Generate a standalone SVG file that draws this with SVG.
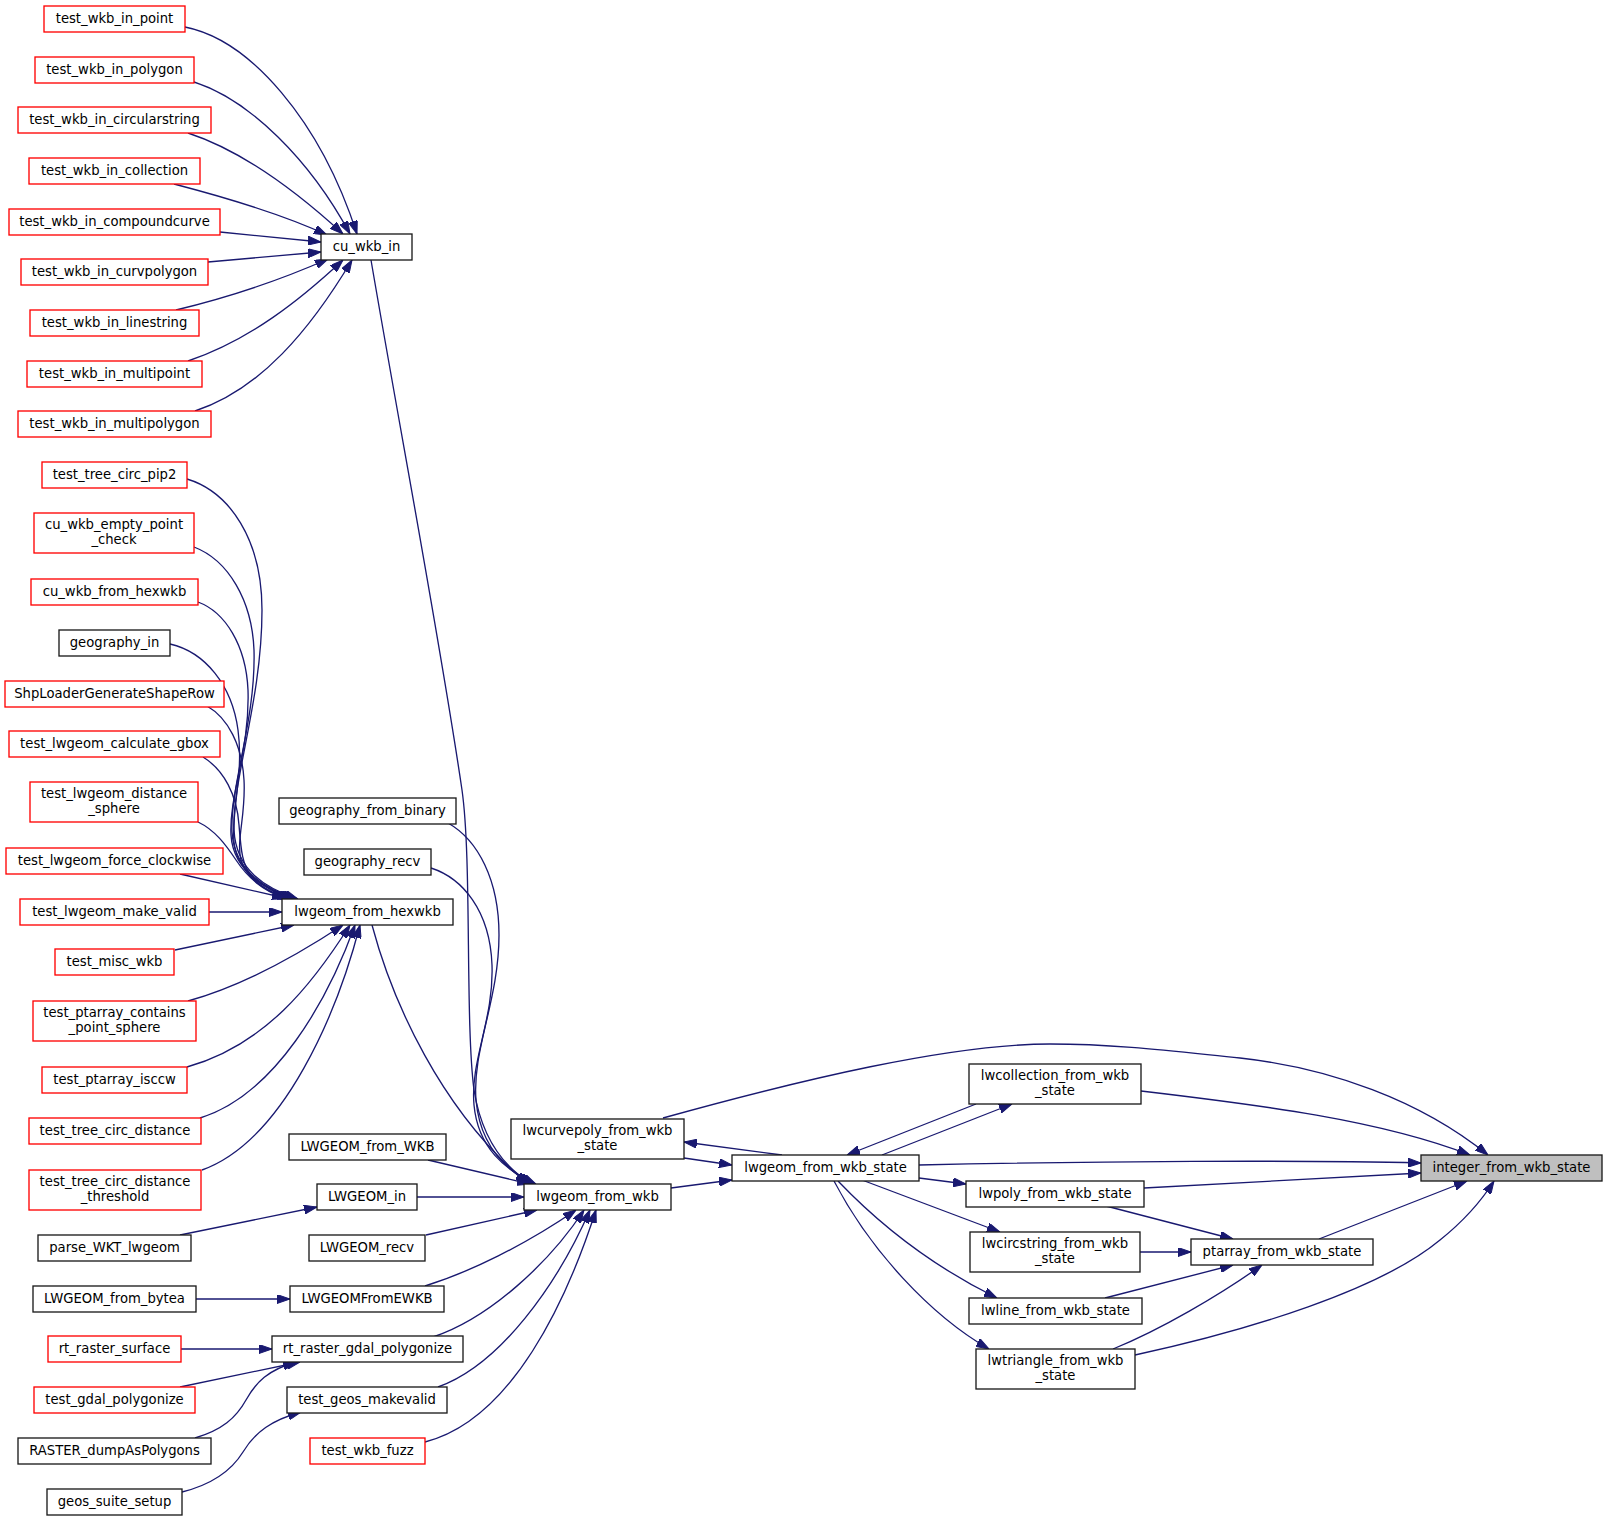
<svg xmlns="http://www.w3.org/2000/svg" width="1607" height="1520" viewBox="0 0 1607 1520">
<style>
.node rect{fill:#ffffff;stroke:#1a1a1a;stroke-width:1.33}
.node.red rect{stroke:#ff0000}
.node.cur rect{fill:#bfbfbf}
.node text{font-family:"DejaVu Sans","Liberation Sans",sans-serif;font-size:13.2px;text-anchor:middle;fill:#000000}
.edges path{fill:none;stroke:#191970;stroke-width:1.33;marker-end:url(#arr)}
</style>
<defs>
<marker id="arr" markerUnits="userSpaceOnUse" viewBox="0 0 13 9" refX="13" refY="4.5" markerWidth="13" markerHeight="9" orient="auto">
<path d="M0,0 L13,4.5 L0,9 z" fill="#191970" stroke="#191970" stroke-width="1"/>
</marker>
</defs>
<rect x="0" y="0" width="1607" height="1520" fill="#ffffff"/>
<g class="edges" id="edges">
<path d="M185,27 C250,40 320,120 357,234"/>
<path d="M194,82 C250,100 310,160 350,234"/>
<path d="M188,133 C240,150 295,190 343,234"/>
<path d="M174,184 C220,196 282,214 327,235"/>
<path d="M220,232 L321,242"/>
<path d="M208,262 L321,252"/>
<path d="M176,310 C230,297 285,278 328,259"/>
<path d="M188,361 C250,340 300,300 343,260"/>
<path d="M195,411 C260,390 310,330 352,260"/>
<path d="M187,479 C230,492 262,540 262,610 C262,700 232,780 234,830 C236,870 265,888 298,899"/>
<path d="M194,547 C228,560 252,600 254,650 C256,720 230,785 232,832 C234,868 262,888 296,899"/>
<path d="M198,602 C225,612 246,645 248,690 C250,750 229,795 231,835 C233,870 262,888 294,899"/>
<path d="M170,644 C205,652 232,685 238,730 C244,775 231,810 234,842 C237,872 263,889 292,899"/>
<path d="M207,706 C228,718 242,745 244,780 C246,815 236,840 241,860 C247,880 266,891 290,899"/>
<path d="M203,757 C224,770 237,795 239,825 C241,850 242,865 252,877 C262,889 275,894 288,899"/>
<path d="M198,822 C215,830 226,845 236,860 C248,878 262,890 286,899"/>
<path d="M180,874 L285,898"/>
<path d="M209,912 L282,912"/>
<path d="M175,950 L294,925"/>
<path d="M188,1001 C235,988 290,960 343,925"/>
<path d="M187,1067 C265,1045 312,985 350,925"/>
<path d="M200,1118 C275,1095 328,1000 355,925"/>
<path d="M202,1170 C285,1140 338,1010 360,925"/>
<path d="M371,260 C400,430 440,640 462,790 C472,860 465,1020 474,1090 C482,1140 505,1168 532,1184"/>
<path d="M448,823 C478,840 499,880 499,935 C499,1000 472,1050 476,1100 C480,1145 505,1170 534,1184"/>
<path d="M431,868 C462,878 490,910 492,965 C494,1020 470,1060 474,1105 C478,1148 505,1170 536,1184"/>
<path d="M372,925 C392,1000 440,1110 528,1184"/>
<path d="M428,1160 L530,1184"/>
<path d="M417,1197 L524,1197"/>
<path d="M426,1235 L537,1210"/>
<path d="M425,1286 C470,1272 525,1245 576,1210"/>
<path d="M433,1337 C490,1318 550,1262 584,1210"/>
<path d="M438,1387 C500,1365 557,1285 590,1210"/>
<path d="M425,1442 C512,1420 567,1300 596,1210"/>
<path d="M180,1235 L317,1207"/>
<path d="M196,1299 L290,1299"/>
<path d="M181,1349 L272,1349"/>
<path d="M180,1387 L300,1362"/>
<path d="M195,1438 C222,1430 236,1418 246,1400 C256,1382 268,1370 296,1362"/>
<path d="M182,1492 C210,1485 230,1473 243,1452 C255,1432 272,1420 301,1412"/>
<path d="M671,1188 L732,1180"/>
<path d="M684,1158 L732,1165"/>
<path d="M782,1155 L684,1142"/>
<path d="M663,1118 C800,1080 950,1044 1050,1044 C1120,1044 1180,1052 1240,1058 C1330,1068 1420,1100 1488,1155"/>
<path d="M976,1104 L847,1155"/>
<path d="M882,1155 L1012,1104"/>
<path d="M1141,1091 C1260,1105 1380,1120 1470,1155"/>
<path d="M919,1165 C1100,1161 1300,1160 1421,1163"/>
<path d="M919,1178 L966,1184"/>
<path d="M1144,1188 L1421,1173"/>
<path d="M1106,1206 L1233,1239"/>
<path d="M862,1180 L1000,1232"/>
<path d="M1140,1252 L1191,1252"/>
<path d="M838,1181 C880,1225 930,1265 997,1298"/>
<path d="M834,1181 C870,1250 930,1315 989,1349"/>
<path d="M1105,1298 L1233,1265"/>
<path d="M1113,1349 C1160,1330 1220,1295 1262,1265"/>
<path d="M1135,1355 C1250,1330 1380,1290 1440,1240 C1465,1220 1482,1200 1494,1181"/>
<path d="M1319,1239 L1467,1181"/>
</g>
<g id="n_test_wkb_in_point" class="node red"><rect x="44" y="6" width="141" height="26"/><text x="114.5" y="23">test_wkb_in_point</text></g>
<g id="n_test_wkb_in_polygon" class="node red"><rect x="35" y="57" width="159" height="26"/><text x="114.5" y="74">test_wkb_in_polygon</text></g>
<g id="n_test_wkb_in_circularstring" class="node red"><rect x="18" y="107" width="193" height="26"/><text x="114.5" y="124">test_wkb_in_circularstring</text></g>
<g id="n_test_wkb_in_collection" class="node red"><rect x="29" y="158" width="171" height="26"/><text x="114.5" y="175">test_wkb_in_collection</text></g>
<g id="n_test_wkb_in_compoundcurve" class="node red"><rect x="9" y="209" width="211" height="26"/><text x="114.5" y="226">test_wkb_in_compoundcurve</text></g>
<g id="n_test_wkb_in_curvpolygon" class="node red"><rect x="21" y="259" width="187" height="26"/><text x="114.5" y="276">test_wkb_in_curvpolygon</text></g>
<g id="n_test_wkb_in_linestring" class="node red"><rect x="30" y="310" width="169" height="26"/><text x="114.5" y="327">test_wkb_in_linestring</text></g>
<g id="n_test_wkb_in_multipoint" class="node red"><rect x="27" y="361" width="175" height="26"/><text x="114.5" y="378">test_wkb_in_multipoint</text></g>
<g id="n_test_wkb_in_multipolygon" class="node red"><rect x="18" y="411" width="193" height="26"/><text x="114.5" y="428">test_wkb_in_multipolygon</text></g>
<g id="n_test_tree_circ_pip2" class="node red"><rect x="42" y="462" width="145" height="26"/><text x="114.5" y="479">test_tree_circ_pip2</text></g>
<g id="n_cu_wkb_empty_point_check" class="node red"><rect x="34" y="513" width="160" height="40"/><text x="114" y="529">cu_wkb_empty_point</text><text x="114" y="544">_check</text></g>
<g id="n_cu_wkb_from_hexwkb" class="node red"><rect x="31" y="579" width="167" height="26"/><text x="114.5" y="596">cu_wkb_from_hexwkb</text></g>
<g id="n_geography_in" class="node"><rect x="59" y="630" width="111" height="26"/><text x="114.5" y="647">geography_in</text></g>
<g id="n_ShpLoaderGenerateShapeRow" class="node red"><rect x="5" y="681" width="219" height="26"/><text x="114.5" y="698">ShpLoaderGenerateShapeRow</text></g>
<g id="n_test_lwgeom_calculate_gbox" class="node red"><rect x="9" y="731" width="211" height="26"/><text x="114.5" y="748">test_lwgeom_calculate_gbox</text></g>
<g id="n_test_lwgeom_distance_sphere" class="node red"><rect x="30" y="782" width="168" height="40"/><text x="114" y="798">test_lwgeom_distance</text><text x="114" y="813">_sphere</text></g>
<g id="n_test_lwgeom_force_clockwise" class="node red"><rect x="6" y="848" width="217" height="26"/><text x="114.5" y="865">test_lwgeom_force_clockwise</text></g>
<g id="n_test_lwgeom_make_valid" class="node red"><rect x="20" y="899" width="189" height="26"/><text x="114.5" y="916">test_lwgeom_make_valid</text></g>
<g id="n_test_misc_wkb" class="node red"><rect x="55" y="949" width="119" height="26"/><text x="114.5" y="966">test_misc_wkb</text></g>
<g id="n_test_ptarray_contains_point_sphere" class="node red"><rect x="33" y="1001" width="163" height="40"/><text x="114.5" y="1017">test_ptarray_contains</text><text x="114.5" y="1032">_point_sphere</text></g>
<g id="n_test_ptarray_isccw" class="node red"><rect x="42" y="1067" width="145" height="26"/><text x="114.5" y="1084">test_ptarray_isccw</text></g>
<g id="n_test_tree_circ_distance" class="node red"><rect x="29" y="1118" width="172" height="26"/><text x="115" y="1135">test_tree_circ_distance</text></g>
<g id="n_test_tree_circ_distance_threshold" class="node red"><rect x="29" y="1170" width="172" height="40"/><text x="115" y="1186">test_tree_circ_distance</text><text x="115" y="1201">_threshold</text></g>
<g id="n_parse_WKT_lwgeom" class="node"><rect x="38" y="1235" width="153" height="26"/><text x="114.5" y="1252">parse_WKT_lwgeom</text></g>
<g id="n_LWGEOM_from_bytea" class="node"><rect x="33" y="1286" width="163" height="26"/><text x="114.5" y="1303">LWGEOM_from_bytea</text></g>
<g id="n_rt_raster_surface" class="node red"><rect x="48" y="1336" width="133" height="26"/><text x="114.5" y="1353">rt_raster_surface</text></g>
<g id="n_test_gdal_polygonize" class="node red"><rect x="34" y="1387" width="161" height="26"/><text x="114.5" y="1404">test_gdal_polygonize</text></g>
<g id="n_RASTER_dumpAsPolygons" class="node"><rect x="18" y="1438" width="193" height="26"/><text x="114.5" y="1455">RASTER_dumpAsPolygons</text></g>
<g id="n_geos_suite_setup" class="node"><rect x="47" y="1489" width="135" height="26"/><text x="114.5" y="1506">geos_suite_setup</text></g>
<g id="n_cu_wkb_in" class="node"><rect x="321" y="234" width="91" height="26"/><text x="366.5" y="251">cu_wkb_in</text></g>
<g id="n_geography_from_binary" class="node"><rect x="279" y="798" width="177" height="26"/><text x="367.5" y="815">geography_from_binary</text></g>
<g id="n_geography_recv" class="node"><rect x="304" y="849" width="127" height="26"/><text x="367.5" y="866">geography_recv</text></g>
<g id="n_lwgeom_from_hexwkb" class="node"><rect x="282" y="899" width="171" height="26"/><text x="367.5" y="916">lwgeom_from_hexwkb</text></g>
<g id="n_LWGEOM_from_WKB" class="node"><rect x="289" y="1134" width="157" height="26"/><text x="367.5" y="1151">LWGEOM_from_WKB</text></g>
<g id="n_LWGEOM_in" class="node"><rect x="317" y="1184" width="100" height="26"/><text x="367" y="1201">LWGEOM_in</text></g>
<g id="n_LWGEOM_recv" class="node"><rect x="309" y="1235" width="116" height="26"/><text x="367" y="1252">LWGEOM_recv</text></g>
<g id="n_LWGEOMFromEWKB" class="node"><rect x="290" y="1286" width="154" height="26"/><text x="367" y="1303">LWGEOMFromEWKB</text></g>
<g id="n_rt_raster_gdal_polygonize" class="node"><rect x="272" y="1336" width="191" height="26"/><text x="367.5" y="1353">rt_raster_gdal_polygonize</text></g>
<g id="n_test_geos_makevalid" class="node"><rect x="287" y="1387" width="160" height="26"/><text x="367" y="1404">test_geos_makevalid</text></g>
<g id="n_test_wkb_fuzz" class="node red"><rect x="310" y="1438" width="115" height="26"/><text x="367.5" y="1455">test_wkb_fuzz</text></g>
<g id="n_lwcurvepoly_from_wkb_state" class="node"><rect x="511" y="1119" width="173" height="40"/><text x="597.5" y="1135">lwcurvepoly_from_wkb</text><text x="597.5" y="1150">_state</text></g>
<g id="n_lwgeom_from_wkb" class="node"><rect x="524" y="1184" width="147" height="26"/><text x="597.5" y="1201">lwgeom_from_wkb</text></g>
<g id="n_lwgeom_from_wkb_state" class="node"><rect x="732" y="1155" width="187" height="26"/><text x="825.5" y="1172">lwgeom_from_wkb_state</text></g>
<g id="n_lwcollection_from_wkb_state" class="node"><rect x="969" y="1064" width="172" height="40"/><text x="1055" y="1080">lwcollection_from_wkb</text><text x="1055" y="1095">_state</text></g>
<g id="n_lwpoly_from_wkb_state" class="node"><rect x="966" y="1181" width="178" height="26"/><text x="1055" y="1198">lwpoly_from_wkb_state</text></g>
<g id="n_lwcircstring_from_wkb_state" class="node"><rect x="970" y="1232" width="170" height="40"/><text x="1055" y="1248">lwcircstring_from_wkb</text><text x="1055" y="1263">_state</text></g>
<g id="n_lwline_from_wkb_state" class="node"><rect x="969" y="1298" width="173" height="26"/><text x="1055.5" y="1315">lwline_from_wkb_state</text></g>
<g id="n_lwtriangle_from_wkb_state" class="node"><rect x="976" y="1349" width="159" height="40"/><text x="1055.5" y="1365">lwtriangle_from_wkb</text><text x="1055.5" y="1380">_state</text></g>
<g id="n_ptarray_from_wkb_state" class="node"><rect x="1191" y="1239" width="182" height="26"/><text x="1282" y="1256">ptarray_from_wkb_state</text></g>
<g id="n_integer_from_wkb_state" class="node cur"><rect x="1421" y="1155" width="181" height="26"/><text x="1511.5" y="1172">integer_from_wkb_state</text></g>
</svg>
